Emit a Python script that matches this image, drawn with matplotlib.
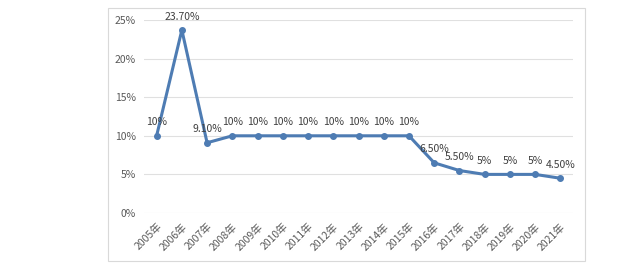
import matplotlib.pyplot as plt
from matplotlib.patches import Rectangle

plt.rcParams['font.family'] = ['Noto Sans CJK SC', 'DejaVu Sans']

years = [str(y) + '年' for y in range(2005, 2022)]
rates = [10, 23.7, 9.1, 10, 10, 10, 10, 10, 10, 10, 10, 6.5, 5.5, 5, 5, 5, 4.5]
labels = ['10%', '23.70%', '9.10%', '10%', '10%', '10%', '10%', '10%', '10%',
          '10%', '10%', '6.50%', '5.50%', '5%', '5%', '5%', '4.50%']

fig = plt.figure(figsize=(6.4, 2.77), dpi=100)
fig.patches.append(Rectangle((108/640, 1-261/277), 477/640, 253/277,
                             transform=fig.transFigure, fill=False,
                             edgecolor='#d9d9d9', lw=0.8))
ax = fig.add_axes([144/640, 1-213/277, 429/640, 193/277])

x = range(len(years))
ax.plot(x, rates, color='#4e7cb3', lw=2.2, marker='o', ms=4, zorder=3)
for i, (v, t) in enumerate(zip(rates, labels)):
    ax.annotate(t, (i, v), xytext=(0, 6), textcoords='offset points',
                ha='center', va='bottom', fontsize=7.5, color='#404040')

ax.set_ylim(0, 25)
ax.set_xlim(-0.5, len(years) - 0.5)
ax.set_yticks([0, 5, 10, 15, 20, 25])
ax.set_yticklabels(['0%', '5%', '10%', '15%', '20%', '25%'])
ax.set_xticks(list(x))
ax.set_xticklabels(years, rotation=45, ha='right', rotation_mode='anchor')
ax.tick_params(length=0, labelsize=7.5, colors='#595959', pad=6)
ax.grid(axis='y', color='#e0e0e0', lw=0.8)
ax.set_axisbelow(True)
for s in ax.spines.values():
    s.set_visible(False)

fig.savefig('out.png', dpi=100)
